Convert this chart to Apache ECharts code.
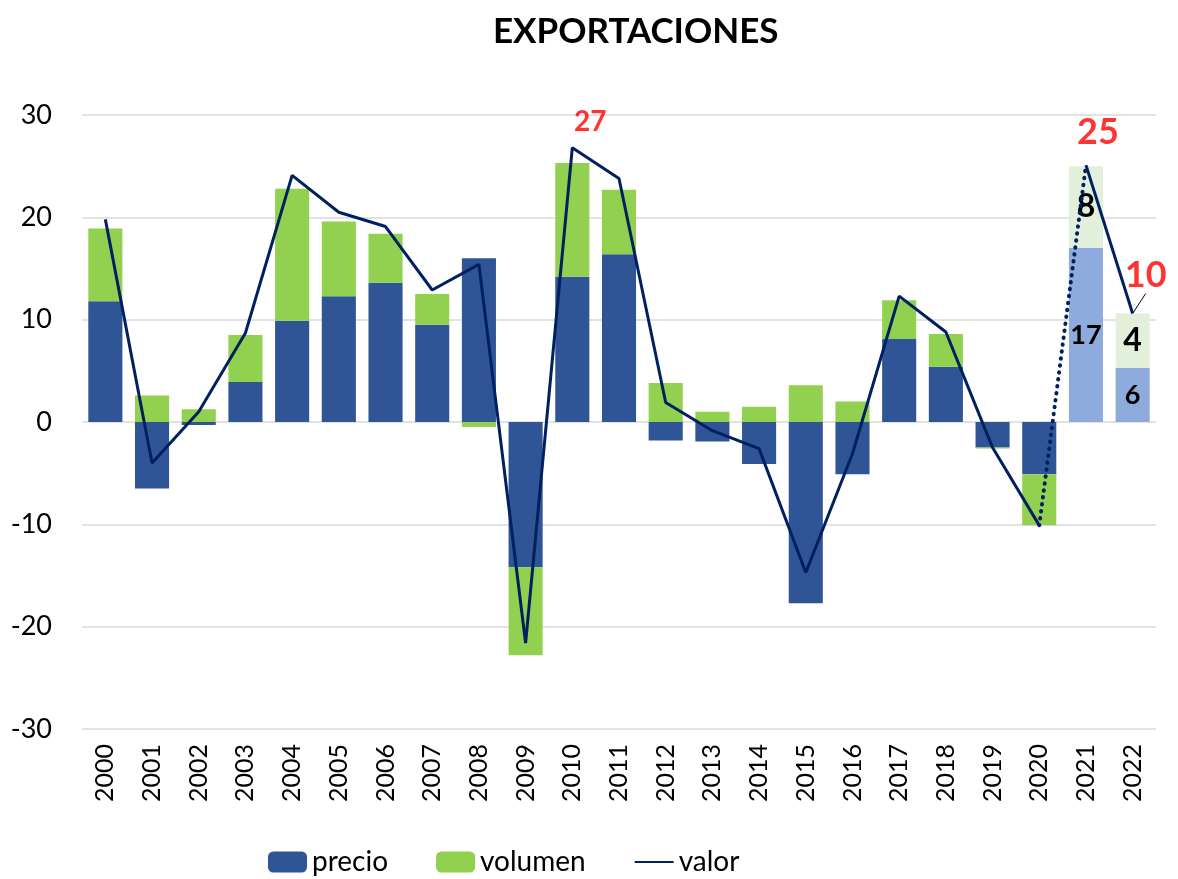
<!DOCTYPE html>
<html>
<head>
<meta charset="utf-8">
<script src="https://cdn.jsdelivr.net/npm/echarts@6/dist/echarts.min.js"></script>
<style>
  html, body { margin: 0; padding: 0; background: #fff; }
  #main { width: 1178px; height: 879px; }
</style>
</head>
<body>
<div id="main"></div>
<script>
var anios = ['2000','2001','2002','2003','2004','2005','2006','2007','2008','2009','2010','2011',
             '2012','2013','2014','2015','2016','2017','2018','2019','2020','2021','2022'];
var precio  = [11.8,-6.5,-0.3,3.9,9.9,12.3,13.6,9.5,16.0,-14.2,14.2,16.4,-1.8,-1.9,-4.1,-17.7,-5.1,8.1,5.4,-2.5,-5.1,17.0,5.3];
var volumen = [7.1,2.6,1.25,4.6,12.9,7.3,4.8,3.0,-0.5,-8.6,11.1,6.3,3.8,1.0,1.5,3.6,2.0,3.8,3.2,-0.1,-5.0,8.0,5.3];
var valor   = [19.8,-4.0,1.0,8.7,24.1,20.5,19.1,12.9,15.4,-21.6,26.8,23.8,1.9,-0.85,-2.6,-14.7,-3.1,12.3,8.8,-2.5,-10.1,25.1,10.6];
// textos que aparecen en el grafico
var etiqPrecio  = {21: '17', 22: '6'};
var etiqVolumen = {21: '8', 22: '4'};
var etiqValor   = {10: '27', 21: '25', 22: '10'};
var proyeccion = [21, 22];

var fuente = 'Lato';
var myChart = echarts.init(document.getElementById('main'));

function barData(vals, colorClaro, etiq, tam) {
    return vals.map(function(v, i) {
        if (proyeccion.indexOf(i) >= 0) {
            return {
                value: v,
                itemStyle: { color: colorClaro },
                label: {
                    show: true, position: 'inside', color: '#000', fontWeight: 'bold',
                    fontFamily: fuente, fontSize: tam,
                    formatter: function() { return etiq[i]; }
                }
            };
        }
        return v;
    });
}

var valorLinea = valor.map(function(v, i) { return i <= 20 ? v : '-'; });
var valorFin = valor.map(function(v, i) { return i >= 21 ? v : '-'; });
var valorPunteado = valor.map(function(v, i) { return (i === 20 || i === 21) ? v : '-'; });
var valorEtiq = valor.map(function(v, i) {
    if (!etiqValor[i]) return '-';
    return {
        value: v,
        label: { fontSize: i === 10 ? 28 : 36 },
        labelLine: { show: i === 22, lineStyle: { color: '#000', width: 1 } }
    };
});
var desplaz = {10: [18, -26], 21: [12, -33], 22: [13, -38]};

option = {
    animation: false,
    textStyle: { fontFamily: fuente },
    title: {
        text: 'EXPORTACIONES',
        left: 488, top: 9,
        textStyle: { fontSize: 35, fontWeight: 'bold', color: '#000', fontFamily: fuente }
    },
    grid: { left: 82, right: 22, top: 115, bottom: 150 },
    legend: {
        left: 268, top: 848, padding: 0,
        itemWidth: 39, itemHeight: 21, itemGap: 48,
        textStyle: { fontSize: 28, color: '#000', fontFamily: fuente },
        data: ['precio', 'volumen', { name: 'valor', itemStyle: { opacity: 0 } }]
    },
    xAxis: {
        type: 'category',
        data: anios,
        axisLine: { show: false, onZero: false },
        axisTick: { show: false },
        axisLabel: { rotate: 90, fontSize: 25, color: '#000', margin: 15, fontFamily: fuente }
    },
    yAxis: {
        type: 'value',
        min: -30, max: 30, interval: 10,
        axisLabel: { fontSize: 27, color: '#000', margin: 30, fontFamily: fuente },
        splitLine: { lineStyle: { color: '#d9d9d9', width: 1.5 } }
    },
    series: [
        {
            name: 'precio', type: 'bar', stack: 'total', barCategoryGap: '27%',
            itemStyle: { color: '#2F5597' },
            data: barData(precio, '#8FAADC', etiqPrecio, 27)
        },
        {
            name: 'volumen', type: 'bar', stack: 'total',
            itemStyle: { color: '#92D050' },
            data: barData(volumen, '#E2EFDA', etiqVolumen, 32)
        },
        {
            name: 'valor', type: 'line', symbol: 'none',
            lineStyle: { color: '#002060', width: 3 },
            itemStyle: { color: '#002060' },
            data: valorLinea
        },
        {
            name: 'valor', type: 'line', symbol: 'none',
            lineStyle: { color: '#002060', width: 3 },
            data: valorFin
        },
        {
            name: 'valor', type: 'line', symbol: 'none',
            lineStyle: { color: '#002060', width: 4, type: [0.5, 6.5], cap: 'round' },
            data: valorPunteado
        },
        {
            name: 'etiquetas', type: 'scatter', symbolSize: 1,
            itemStyle: { color: 'rgba(0,0,0,0)' },
            label: {
                show: true, position: 'inside', color: '#FF0000', fontWeight: 'bold', fontFamily: fuente,
                formatter: function(p) { return etiqValor[p.dataIndex]; }
            },
            labelLayout: function(p) {
                var d = desplaz[p.dataIndex] || [0, 0];
                return { dx: d[0], dy: d[1] };
            },
            data: valorEtiq,
            z: 5
        }
    ]
};
myChart.setOption(option);
</script>
</body>
</html>
